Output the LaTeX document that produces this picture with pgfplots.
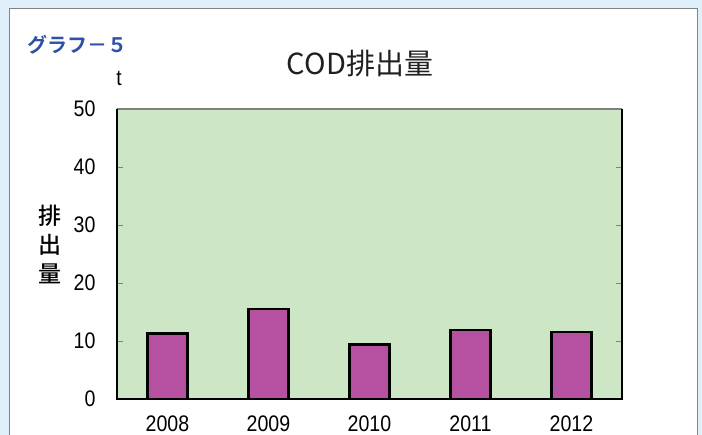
\documentclass[border=0pt]{standalone}
\usepackage{fontspec}
\usepackage{pgfplots}
\pgfplotsset{compat=1.18}
\setmainfont{Liberation Sans}[FakeStretch=0.87]
\newfontfamily\jp{Noto Sans CJK JP}
\newfontfamily\jpm{Noto Sans CJK JP Medium}
\newfontfamily\jpb{Noto Sans CJK JP Bold}
\definecolor{outerbg}{RGB}{224,240,251}
\definecolor{plotbg}{RGB}{205,230,198}
\definecolor{barfill}{RGB}{182,80,160}
\definecolor{titleblue}{RGB}{47,80,168}
\definecolor{panelgray}{RGB}{130,130,130}
\begin{document}
\begin{tikzpicture}[x=1pt,y=1pt]
\useasboundingbox (0,0) rectangle (702,435);
\clip (0,0) rectangle (702,435);
\fill[outerbg] (0,0) rectangle (702,435);
\draw[panelgray, fill=white, line width=1pt] (9,-5) rectangle (697,426);
\node[anchor=west, text=titleblue, font=\jpb\fontsize{20}{20}\selectfont, inner sep=0pt] at (27,390) {グラフ－５};
\node[font=\jp\fontsize{29}{29}\selectfont, text={rgb,255:red,35;green,31;blue,32}, inner sep=0pt] at (360,371) {COD排出量};
\node[font=\fontsize{22}{22}\selectfont, inner sep=0pt] at (119,357) {t};
\node[font=\jpm\fontsize{23}{29}\selectfont, align=center, inner sep=0pt] at (50,191) {排\\出\\量};
\begin{axis}[
  at={(117pt,36pt)}, anchor=south west,
  scale only axis, width=505pt, height=290pt,
  xmin=-0.5, xmax=4.5, ymin=0, ymax=50,
  ytick={0,10,20,30,40,50},
  xtick={0,1,2,3,4},
  xticklabels={2008,2009,2010,2011,2012},
  xtick style={draw=none},
  extra x ticks={0.5,1.5,2.5,3.5},
  extra x tick labels={},
  extra x tick style={tick style={draw=gray, line width=0.8pt}, major tick length=7pt},
  xtick pos=bottom,
  ytick pos=both,
  tick align=inside,
  ytick style={draw=gray, line width=0.8pt},
  major tick length=6pt,
  axis line style={draw=none},
  axis background/.style={fill=plotbg},
  ticklabel style={font=\fontsize{22.5}{22.5}\selectfont},
  /pgf/number format/assume math mode=true,
  yticklabel style={xshift=-18pt},
  xticklabel style={yshift=-13pt},
  clip=false,
]
\addplot[ybar, bar width=40pt, fill=barfill, draw=black, line width=2.2pt]
  coordinates {(0,11.3) (1,15.5) (2,9.4) (3,11.9) (4,11.6)};
\draw[gray, line width=1.3pt] (rel axis cs:0,1) -- (rel axis cs:1,1);
\draw[black, line width=1.5pt] (rel axis cs:0,1) -- (rel axis cs:0,0) -- (rel axis cs:1,0) -- (rel axis cs:1,1);
\end{axis}
\end{tikzpicture}
\end{document}
